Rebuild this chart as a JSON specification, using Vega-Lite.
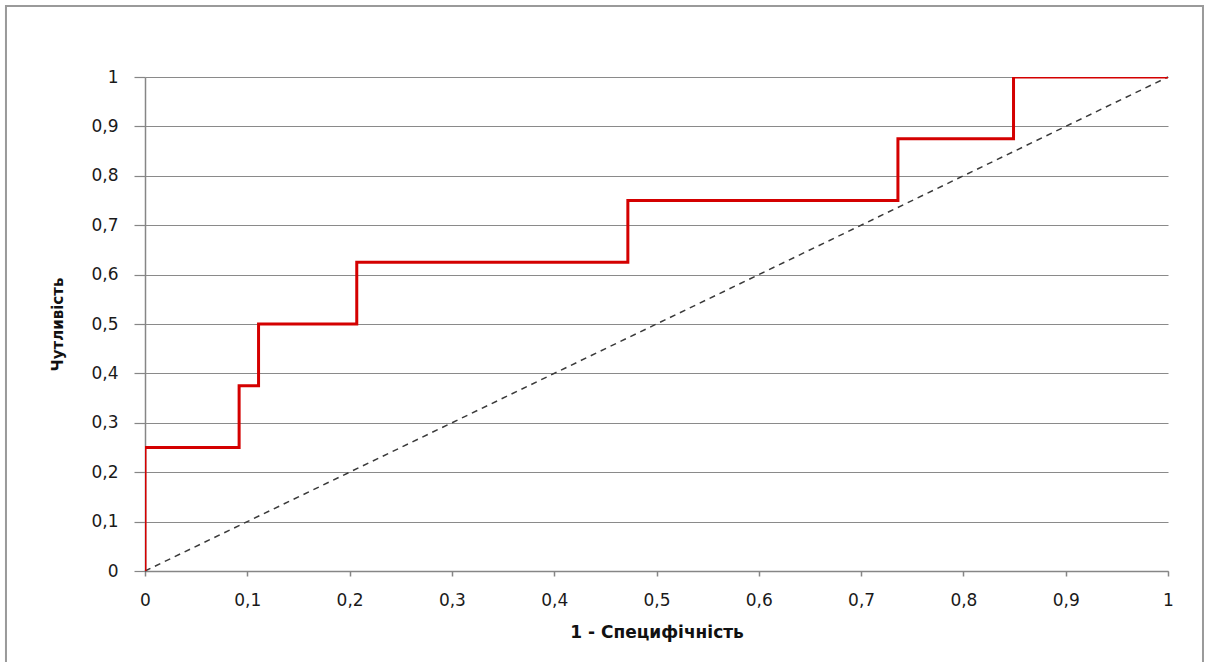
{
  "$schema": "https://vega.github.io/schema/vega-lite/v6.json",
  "width": 1023,
  "height": 494,
  "autosize": {"type": "none"},
  "padding": {"left": 145, "top": 77, "right": 37, "bottom": 91},
  "background": "white",
  "config": {
    "view": {"stroke": null},
    "font": "DejaVu Sans"
  },
  "datasets": {
    "roc": [
      {"fpr": 0, "tpr": 0},
      {"fpr": 0, "tpr": 0.25},
      {"fpr": 0.092, "tpr": 0.375},
      {"fpr": 0.111, "tpr": 0.5},
      {"fpr": 0.207, "tpr": 0.625},
      {"fpr": 0.472, "tpr": 0.75},
      {"fpr": 0.736, "tpr": 0.875},
      {"fpr": 0.849, "tpr": 1},
      {"fpr": 1, "tpr": 1}
    ],
    "diag": [
      {"fpr": 0, "tpr": 0},
      {"fpr": 1, "tpr": 1}
    ]
  },
  "layer": [
    {
      "data": {"values": [{"frame": 1}]},
      "mark": {"type": "rect", "fill": null, "stroke": "#9a9a9a", "strokeWidth": 2, "clip": false},
      "encoding": {
        "x": {"datum": -0.1359, "type": "quantitative", "scale": {"domain": [0, 1]}},
        "x2": {"datum": 1.0342},
        "y": {"datum": 1.1437, "type": "quantitative", "scale": {"domain": [0, 1]}},
        "y2": {"datum": -0.3}
      }
    },
    {
      "data": {"name": "diag"},
      "mark": {"type": "line", "color": "#3a3a3a", "strokeWidth": 1.5, "strokeDash": [6, 5]},
      "encoding": {
        "x": {"field": "fpr", "type": "quantitative"},
        "y": {"field": "tpr", "type": "quantitative"}
      }
    },
    {
      "data": {"name": "roc"},
      "mark": {"type": "line", "color": "#d40000", "strokeWidth": 3, "interpolate": "step-after", "clip": true},
      "encoding": {
        "x": {
          "field": "fpr",
          "type": "quantitative",
          "scale": {"domain": [0, 1], "nice": false, "zero": false},
          "axis": {
            "title": "1 - Специфічність",
            "values": [0, 0.1, 0.2, 0.3, 0.4, 0.5, 0.6, 0.7, 0.8, 0.9, 1],
            "labelExpr": "replace(format(datum.value, '~g'), '.', ',')",
            "labelFlush": false,
            "labelOverlap": false,
            "grid": false,
            "domainColor": "#868686",
            "domainWidth": 1.5,
            "tickColor": "#868686",
            "tickWidth": 1.5,
            "tickSize": 5,
            "labelPadding": 16,
            "labelFont": "DejaVu Sans",
            "labelFontSize": 17,
            "labelColor": "#1a1a1a",
            "titleFont": "DejaVu Sans",
            "titleFontSize": 17,
            "titleFontWeight": "bold",
            "titleColor": "#111111",
            "titlePadding": 16
          }
        },
        "y": {
          "field": "tpr",
          "type": "quantitative",
          "scale": {"domain": [0, 1], "nice": false, "zero": false},
          "axis": {
            "title": "Чутливість",
            "values": [0, 0.1, 0.2, 0.3, 0.4, 0.5, 0.6, 0.7, 0.8, 0.9, 1],
            "labelExpr": "replace(format(datum.value, '~g'), '.', ',')",
            "labelFlush": false,
            "labelOverlap": false,
            "grid": true,
            "gridColor": "#8a8a8a",
            "gridWidth": 1.2,
            "domainColor": "#868686",
            "domainWidth": 1.5,
            "tickColor": "#868686",
            "tickWidth": 1.2,
            "tickSize": 11,
            "labelPadding": 16,
            "labelFont": "DejaVu Sans",
            "labelFontSize": 17,
            "labelColor": "#1a1a1a",
            "titleFont": "DejaVu Sans",
            "titleFontSize": 15,
            "titleFontWeight": "bold",
            "titleColor": "#111111",
            "titlePadding": 25
          }
        }
      }
    }
  ]
}
